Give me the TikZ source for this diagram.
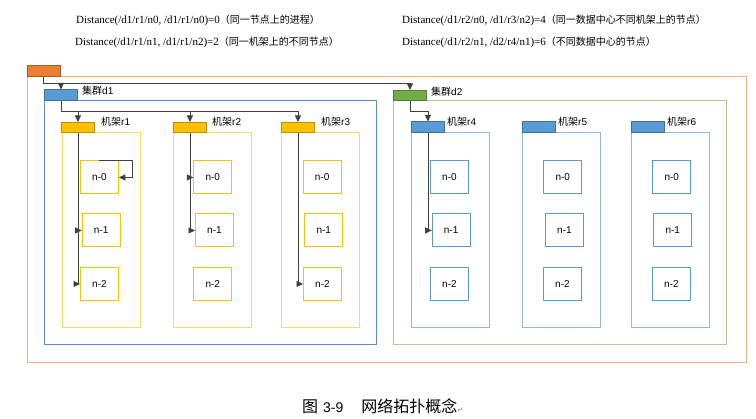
\documentclass[tikz,border=0pt]{standalone}
\usepackage{fontspec}
\setmainfont{Liberation Serif}
\setsansfont{Liberation Sans}
\newfontfamily\cjk{Noto Sans CJK SC}
\newfontfamily\dejavu{DejaVu Sans}
\usetikzlibrary{arrows.meta}
\definecolor{orgtab}{HTML}{ED7D31}
\definecolor{orgtabd}{HTML}{AE5A21}
\definecolor{orgfrm}{HTML}{F4B183}
\definecolor{bluetab}{HTML}{5B9BD5}
\definecolor{bluetabd}{HTML}{41719C}
\definecolor{bluefrm}{HTML}{5A8AD0}
\definecolor{lbluefrm}{HTML}{8DB8E2}
\definecolor{greentab}{HTML}{70AD47}
\definecolor{greentabd}{HTML}{507E32}
\definecolor{greenfrm}{HTML}{A9D18E}
\definecolor{yeltab}{HTML}{FFC000}
\definecolor{yeltabd}{HTML}{BF9000}
\definecolor{yelfrm}{HTML}{FFD966}
\definecolor{connc}{HTML}{404040}
\tikzset{
  box/.style={rectangle, inner sep=0pt, anchor=north west, line width=0.9pt},
  tabbox/.style={box, minimum width=33pt, minimum height=10.5pt},
  ytab/.style={tabbox, fill=yeltab, draw=yeltabd},
  btab/.style={tabbox, fill=bluetab, draw=bluetabd},
  nodebox/.style={box, minimum width=38pt, minimum height=33pt, font=\sffamily\fontsize{10}{12}\selectfont},
  ynode/.style={nodebox, draw=yeltab},
  bnode/.style={nodebox, draw=bluetab},
  tablabel/.style={anchor=west, inner sep=0pt, font=\fontsize{10}{12}\selectfont},
  conn/.style={draw=connc, line width=0.8pt},
  arr/.style={conn, -{Triangle[length=6.5pt,width=6pt]}},
  toptext/.style={anchor=west, inner sep=0pt, font=\fontsize{11}{13}\selectfont},
}
\newcommand{\zh}[1]{{\cjk\fontsize{10}{12}\selectfont #1}}
\begin{document}
\begin{tikzpicture}[x=1pt,y=-1pt]
\useasboundingbox (0,0) rectangle (756,419);
% top texts
\node[toptext] (t1) at (76,20) {Distance(/d1/r1/n0, /d1/r1/n0)=0\zh{（同一节点上的进程）}};
\node[toptext] (t2) at (75,42) {Distance(/d1/r1/n1, /d1/r1/n2)=2\zh{（同一机架上的不同节点）}};
\node[toptext] (t3) at (402,20) {Distance(/d1/r2/n0, /d1/r3/n2)=4\zh{（同一数据中心不同机架上的节点）}};
\node[toptext] (t4) at (402,42) {Distance(/d1/r2/n1, /d2/r4/n1)=6\zh{（不同数据中心的节点）}};
% outer frame
\node[box, draw=orgfrm, minimum width=719pt, minimum height=286.5pt] (outer) at (26.5,76) {};
\node[tabbox, fill=orgtab, draw=orgtabd] (otab) at (26.5,65.5) {};
% data centers
\node[box, draw=bluefrm, minimum width=331.5pt, minimum height=244.5pt] (d1) at (44,100) {};
\node[btab] (d1tab) at (44,89.5) {};
\node[tablabel] (d1lab) at (82,91) {\cjk 集群\sffamily d1};
\node[box, draw=greenfrm, minimum width=332.5pt, minimum height=244pt] (d2) at (393,100.5) {};
\node[tabbox, fill=greentab, draw=greentabd] (d2tab) at (393,90) {};
\node[tablabel] (d2lab) at (431,92) {\cjk 集群\sffamily d2};
% racks d1
\node[box, draw=yelfrm, minimum width=77.5pt, minimum height=194.5pt] (r1) at (62,132.5) {};
\node[ytab] (r1tab) at (61,122) {};
\node[tablabel] (r1lab) at (101,122) {\cjk 机架\sffamily r1};
\node[box, draw=yelfrm, minimum width=78pt, minimum height=194.5pt] (r2) at (173,132.5) {};
\node[ytab] (r2tab) at (173,122) {};
\node[tablabel] (r2lab) at (212,122) {\cjk 机架\sffamily r2};
\node[box, draw=yelfrm, minimum width=78pt, minimum height=194.5pt] (r3) at (281,132.5) {};
\node[ytab] (r3tab) at (281,122) {};
\node[tablabel] (r3lab) at (321,122) {\cjk 机架\sffamily r3};
% racks d2
\node[box, draw=lbluefrm, minimum width=78pt, minimum height=195pt] (r4) at (411,132) {};
\node[btab] (r4tab) at (411,121.5) {};
\node[tablabel] (r4lab) at (447,122) {\cjk 机架\sffamily r4};
\node[box, draw=lbluefrm, minimum width=78pt, minimum height=195pt] (r5) at (522,132) {};
\node[btab] (r5tab) at (522,121.5) {};
\node[tablabel] (r5lab) at (558,122) {\cjk 机架\sffamily r5};
\node[box, draw=lbluefrm, minimum width=78pt, minimum height=195pt] (r6) at (631,132) {};
\node[btab] (r6tab) at (631,121.5) {};
\node[tablabel] (r6lab) at (667,122) {\cjk 机架\sffamily r6};
% nodes
\node[ynode] (r1n0) at (80,160.5) {n-0};
\node[ynode] (r1n1) at (81.7,213.5) {n-1};
\node[ynode] (r1n2) at (80,267) {n-2};
\node[ynode] (r2n0) at (193.3,160.5) {n-0};
\node[ynode] (r2n1) at (195,213.5) {n-1};
\node[ynode] (r2n2) at (193.3,267) {n-2};
\node[ynode] (r3n0) at (302.7,160.5) {n-0};
\node[ynode] (r3n1) at (304.3,213.5) {n-1};
\node[ynode] (r3n2) at (303,267) {n-2};
\node[bnode] (r4n0) at (430,160.5) {n-0};
\node[bnode] (r4n1) at (431.7,213.5) {n-1};
\node[bnode] (r4n2) at (430,267) {n-2};
\node[bnode] (r5n0) at (543.3,160.5) {n-0};
\node[bnode] (r5n1) at (545,213.5) {n-1};
\node[bnode] (r5n2) at (543,267) {n-2};
\node[bnode] (r6n0) at (652.3,160.5) {n-0};
\node[bnode] (r6n1) at (653.3,213.5) {n-1};
\node[bnode] (r6n2) at (652,267) {n-2};
% buses
\coordinate (bus0) at (0,83.5);
\coordinate (bus1) at (0,111);
\coordinate (bus2) at (0,111.5);
% connectors
\draw[conn] (otab.south) -- (otab.south |- bus0);
\draw[arr] (otab.south |- bus0) -| (d2tab.north);
\draw[arr] (d1tab.north |- bus0) -- (d1tab.north);
\draw[conn] (d1tab.south) -- (d1tab.south |- bus1);
\draw[arr] (d1tab.south |- bus1) -| (r3tab.north);
\draw[arr] (r1tab.north |- bus1) -- (r1tab.north);
\draw[arr] (r2tab.north |- bus1) -- (r2tab.north);
\draw[conn] (d2tab.south) -- (d2tab.south |- bus2);
\draw[arr] (d2tab.south |- bus2) -| (r4tab.north);
\draw[arr] (r1tab.south) |- (r1n1.west);
\draw[arr] (r1tab.south) |- (r1n2.west);
\draw[arr] (r1n0.north) -- ++(33,0) |- (r1n0.east);
\draw[arr] (r2tab.south) |- (r2n0.west);
\draw[arr] (r2tab.south) |- (r2n1.west);
\draw[arr] (r3tab.south) |- (r3n2.west);
\draw[arr] (r4tab.south) |- (r4n1.west);
% caption
\node[anchor=west, inner sep=0pt] (cap) at (302,406) {{\cjk\fontsize{16}{18}\selectfont 图}\hspace{5pt}{\sffamily\fontsize{14}{16}\selectfont 3-9}\hspace{18pt}{\cjk\fontsize{16}{18}\selectfont 网络拓扑概念}{\dejavu\fontsize{7}{8}\selectfont\color{gray}↵}};
\end{tikzpicture}
\end{document}
